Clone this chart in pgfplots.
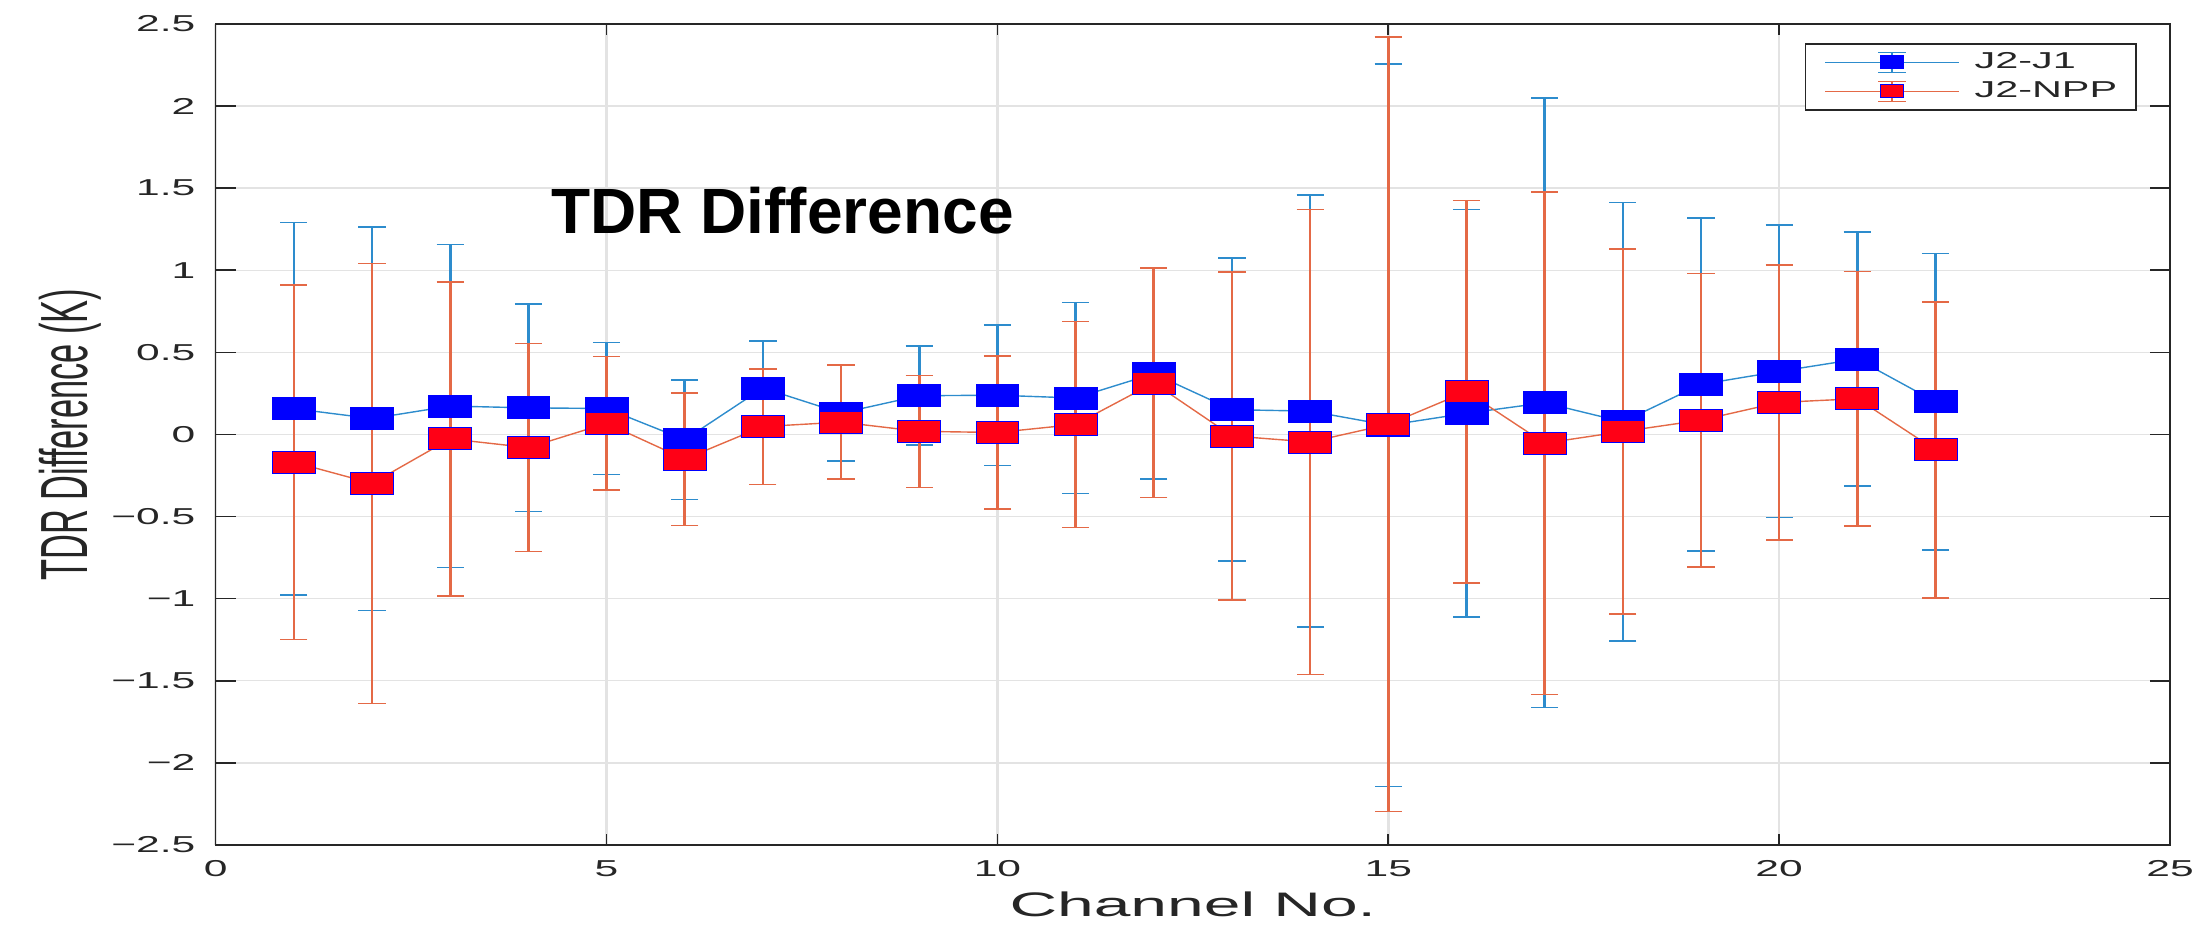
\documentclass[border=0pt]{standalone}
\usepackage{fontspec}
\setmainfont{Liberation Sans}
\usepackage{graphicx}
\usepackage{pgfplots}
\pgfplotsset{compat=1.18}
\usepackage{pgfplotstable}

\definecolor{jone}{RGB}{45,140,205}
\definecolor{jnpp}{RGB}{228,105,70}
\definecolor{mkblue}{RGB}{0,0,255}
\definecolor{mkred}{RGB}{255,0,22}
\definecolor{axisgray}{RGB}{38,38,38}

% wide axis text
\newcommand{\sx}[2][1.85]{\scalebox{#1}[1]{#2}}

% legend sample: line, error bar and marker
\newcommand{\legsample}[2]{%
  \draw[#1, line width=0.7bp] (0bp,0bp) -- (67bp,0bp);
  \draw[#1, line width=1bp] (33.5bp,-5bp) -- (33.5bp,5bp);
  \draw[#1, line width=0.8bp] (26.5bp,-5bp) -- (40.5bp,-5bp) (26.5bp,5bp) -- (40.5bp,5bp);
  \draw[fill=#2, draw=mkblue, line width=0.4bp] (27.75bp,-3.25bp) rectangle (39.25bp,3.25bp);
}

\pgfplotsset{
  errbars/.style={only marks, mark=none, forget plot,
    error bars/.cd, y dir=both, y explicit,
    error bar style={line width=1.3bp, #1},
    error mark options={rotate=90, mark size=6.8bp, line width=0.8bp, #1}},
}

% channel, mean difference, error half-width
\pgfplotstableread{
ch  d       e
1   0.157   1.135
2   0.097   1.168
3   0.173   0.984
4   0.162   0.632
5   0.158   0.402
6   -0.032  0.364
7   0.283   0.288
8   0.130   0.290
9   0.236   0.301
10  0.239   0.427
11  0.222   0.582
12  0.370   0.640
13  0.151   0.923
14  0.142   1.316
15  0.056   2.199
16  0.129   1.242
17  0.193   1.857
18  0.077   1.336
19  0.305   1.015
20  0.384   0.890
21  0.459   0.773
22  0.199   0.903
}\jtwojone

\pgfplotstableread{
ch  d       e
1   -0.169  1.080
2   -0.298  1.340
3   -0.027  0.956
4   -0.080  0.633
5   0.068   0.406
6   -0.150  0.404
7   0.048   0.352
8   0.075   0.348
9   0.019   0.341
10  0.012   0.467
11  0.061   0.628
12  0.314   0.698
13  -0.009  0.999
14  -0.046  1.415
15  0.061   2.358
16  0.261   1.165
17  -0.053  1.530
18  0.018   1.111
19  0.087   0.893
20  0.195   0.838
21  0.218   0.775
22  -0.094  0.901
}\jtwonpp

\begin{document}
\begin{tikzpicture}
\begin{axis}[
  scale only axis,
  width=977.2bp, height=410.5bp,
  xmin=0, xmax=25, ymin=-2.5, ymax=2.5,
  xtick={0,5,10,15,20,25},
  xticklabels={\sx{0},\sx{5},\sx{10},\sx{15},\sx{20},\sx{25}},
  ytick={-2.5,-2,-1.5,-1,-0.5,0,0.5,1,1.5,2,2.5},
  yticklabels={\sx{−2.5},\sx{−2},\sx{−1.5},\sx{−1},\sx{−0.5},\sx{0},\sx{0.5},\sx{1},\sx{1.5},\sx{2},\sx{2.5}},
  tick label style={font=\fontsize{11.5bp}{13bp}\selectfont, inner sep=0pt, text=axisgray},
  xticklabel shift=7.5bp,
  yticklabel shift=10bp,
  tick align=inside,
  tick style={axisgray, line width=0.8bp},
  xtick style={/pgfplots/major tick length=5.3bp},
  ytick style={/pgfplots/major tick length=10bp},
  axis line style={axisgray, line width=0.8bp},
  grid=major,
  major grid style={black!11},
  x grid style={line width=1.3bp},
  y grid style={line width=0.7bp},
  xlabel={\sx[1.94]{Channel No.}},
  xlabel style={font=\fontsize{17bp}{20bp}\selectfont, text=axisgray, inner sep=0pt,
    at={(axis description cs:0.5,0)}, anchor=base, yshift=-36bp},
  ylabel={\scalebox{1}[1.94]{TDR Difference (K)}},
  ylabel style={font=\fontsize{17.2bp}{20bp}\selectfont, text=axisgray, inner sep=0pt,
    at={(axis description cs:-0.0654,0.5)}, anchor=base, rotate=0},
  legend style={at={(rel axis cs:1,1)}, anchor=north east, xshift=-16.5bp, yshift=-9.5bp,
    draw=axisgray, line width=0.8bp, inner xsep=9.5bp, inner ysep=3.8bp,
    row sep=3.5bp, column sep=7.3bp,
    font=\fontsize{11.5bp}{13bp}\selectfont, text=axisgray,
    nodes={inner sep=0pt, text height=8.2bp, text depth=2bp}},
  legend cell align=left,
]

% J2-J1: error bars first, then line and markers on top
\addplot[jone, errbars=jone] table[x=ch, y=d, y error=e] {\jtwojone};
\addplot[jone, line width=0.7bp,
  mark=square*, mark size=5.5bp,
  mark options={xscale=1.95, fill=mkblue, draw=mkblue, line width=0.4bp, solid},
  legend image code/.code={\legsample{jone}{mkblue}},
]
  table[x=ch, y=d] {\jtwojone};
\addlegendentry{\sx[1.8]{J2-J1}}

% J2-NPP
\addplot[jnpp, errbars=jnpp] table[x=ch, y=d, y error=e] {\jtwonpp};
\addplot[jnpp, line width=0.7bp,
  mark=square*, mark size=5.5bp,
  mark options={xscale=1.95, fill=mkred, draw=mkblue, line width=0.4bp, solid},
  legend image code/.code={\legsample{jnpp}{mkred}},
]
  table[x=ch, y=d] {\jtwonpp};
\addlegendentry{\sx[1.8]{J2-NPP}}

\node[anchor=base west, inner sep=0pt, text=black,
  font=\fontsize{32bp}{36bp}\selectfont\bfseries] at (axis cs:4.29,1.221) {TDR Difference};
\end{axis}
\pgfresetboundingbox
\path[use as bounding box] ([xshift=-107.85bp,yshift=-41.5bp]current axis.south west)
  rectangle ([xshift=19bp,yshift=12bp]current axis.north east);
\end{tikzpicture}
\end{document}
